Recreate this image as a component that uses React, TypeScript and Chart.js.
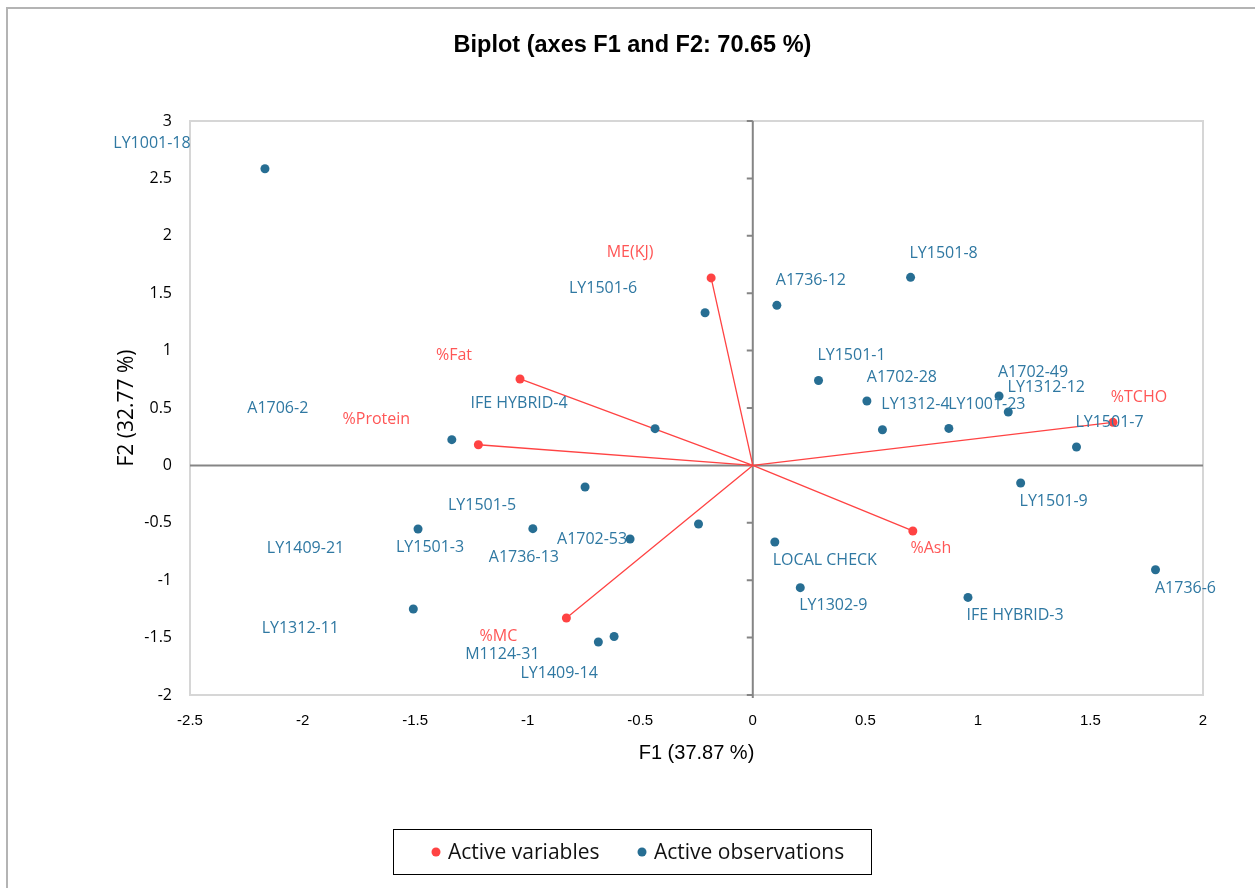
import React, { useEffect, useRef } from "react";
import { Chart, registerables } from "chart.js";

Chart.register(...registerables);

// ---- Data ----
const OBS_NAMES = [
  "LY1001-18", "LY1501-6", "A1736-12", "LY1501-8", "LY1501-1", "A1702-28",
  "LY1312-4", "LY1001-23", "A1702-49", "LY1312-12", "LY1501-7", "LY1501-9",
  "A1736-6", "IFE HYBRID-3", "LY1302-9", "LOCAL CHECK", "A1706-2", "IFE HYBRID-4",
  "LY1501-5", "LY1501-3", "A1736-13", "A1702-53", "LY1409-21", "LY1312-11",
  "M1124-31", "LY1409-14",
];
const OBS_F1 = [
  -2.167, -0.212, 0.107, 0.701, 0.292, 0.507,
  0.576, 0.871, 1.094, 1.135, 1.438, 1.19,
  1.789, 0.956, 0.211, 0.098, -1.337, -0.434,
  -0.745, -1.487, -0.977, -0.545, -0.241, -1.508,
  -0.686, -0.616,
];
const OBS_F2 = [
  2.584, 1.33, 1.394, 1.638, 0.74, 0.561,
  0.311, 0.322, 0.605, 0.465, 0.16, -0.153,
  -0.909, -1.15, -1.065, -0.667, 0.224, 0.32,
  -0.188, -0.554, -0.551, -0.641, -0.51, -1.251,
  -1.538, -1.49,
];

const VAR_NAMES = ["ME(KJ)", "%Fat", "%Protein", "%TCHO", "%Ash", "%MC"];
const VAR_F1 = [-0.185, -1.034, -1.219, 1.6, 0.711, -0.828];
const VAR_F2 = [1.633, 0.753, 0.18, 0.375, -0.571, -1.329];

const X_TICKS = [-2.5, -2, -1.5, -1, -0.5, 0, 0.5, 1, 1.5, 2];
const Y_TICKS = [-2, -1.5, -1, -0.5, 0, 0.5, 1, 1.5, 2, 2.5, 3];

const TITLE = "Biplot (axes F1 and F2: 70.65 %)";
const X_TITLE = "F1 (37.87 %)";
const Y_TITLE = "F2 (32.77 %)";
const LEGEND_VARS = "Active variables";
const LEGEND_OBS = "Active observations";

// ---- Label placement (pixel offsets from each point) ----
const OBS_LABEL_OFFSETS: [number, number][] = [
  [-113, -25], [-102, -24], [34, -25], [33, -24], [33, -25], [35, -24],
  [33, -25], [38, -24], [34, -24], [38, -25], [33, -25], [33, 18],
  [30, 19], [47, 18], [33, 18], [50, 18], [-174, -31], [-136, -25],
  [-103, 18], [12, 18], [-9, 29], [-38, 0], [-393, 24], [-113, 19],
  [-96, 12], [-55, 37],
];
const VAR_LABEL_OFFSETS: [number, number][] = [
  [-81, -25], [-66, -24], [-102, -25], [26, -25], [18, 17], [-68, 18],
];

const RED = "#FF4343";
const RED_TEXT = "#FF5656";
const BLUE = "#276E93";
const BLUE_TEXT = "#2F78A2";
const LABEL_FONT = '16px "Open Sans"';

const biplotPlugin = {
  id: "biplotDecor",
  beforeDraw(chart: any) {
    const { ctx, width, height } = chart;
    ctx.save();
    ctx.fillStyle = "#ffffff";
    ctx.fillRect(0, 0, width, height);
    ctx.strokeStyle = "#B4B4B4";
    ctx.lineWidth = 2;
    ctx.strokeRect(7, 8, width + 40, height + 40);
    ctx.restore();
  },
  beforeDatasetsDraw(chart: any) {
    const { ctx, chartArea: a, scales } = chart;
    const x = scales.x;
    const y = scales.y;
    ctx.save();
    ctx.strokeStyle = "#D6D6D6";
    ctx.lineWidth = 2;
    ctx.strokeRect(a.left, a.top, a.right - a.left, a.bottom - a.top);
    const x0 = x.getPixelForValue(0);
    const y0 = y.getPixelForValue(0);
    ctx.strokeStyle = "#858585";
    ctx.lineWidth = 2;
    ctx.beginPath();
    ctx.moveTo(a.left, y0);
    ctx.lineTo(a.right, y0);
    ctx.moveTo(x0, a.top);
    ctx.lineTo(x0, a.bottom + 3);
    Y_TICKS.forEach((v) => {
      const py = y.getPixelForValue(v);
      ctx.moveTo(x0 - 6, py);
      ctx.lineTo(x0, py);
    });
    ctx.stroke();
    ctx.strokeStyle = RED;
    ctx.lineWidth = 1.3;
    ctx.beginPath();
    VAR_F1.forEach((vx, i) => {
      ctx.moveTo(x0, y0);
      ctx.lineTo(x.getPixelForValue(vx), y.getPixelForValue(VAR_F2[i]));
    });
    ctx.stroke();
    ctx.restore();
  },
  afterDatasetsDraw(chart: any) {
    const { ctx, scales } = chart;
    const x = scales.x;
    const y = scales.y;
    ctx.save();
    ctx.font = LABEL_FONT;
    ctx.textAlign = "center";
    ctx.textBaseline = "middle";
    ctx.fillStyle = BLUE_TEXT;
    OBS_NAMES.forEach((n, i) => {
      const [dx, dy] = OBS_LABEL_OFFSETS[i];
      ctx.fillText(n, x.getPixelForValue(OBS_F1[i]) + dx, y.getPixelForValue(OBS_F2[i]) + dy);
    });
    ctx.fillStyle = RED_TEXT;
    VAR_NAMES.forEach((n, i) => {
      const [dx, dy] = VAR_LABEL_OFFSETS[i];
      ctx.fillText(n, x.getPixelForValue(VAR_F1[i]) + dx, y.getPixelForValue(VAR_F2[i]) + dy);
    });
    ctx.restore();
  },
  afterDraw(chart: any) {
    const { ctx } = chart;
    const ds = chart.data.datasets;
    ctx.save();
    ctx.strokeStyle = "#000000";
    ctx.lineWidth = 1;
    ctx.strokeRect(393.5, 829.5, 478, 45);
    ctx.font = '21px "Open Sans"';
    ctx.textBaseline = "middle";
    ctx.textAlign = "left";
    const items = [
      { cx: 436, color: ds[0].backgroundColor, label: ds[0].label },
      { cx: 642, color: ds[1].backgroundColor, label: ds[1].label },
    ];
    items.forEach((it) => {
      ctx.fillStyle = it.color;
      ctx.beginPath();
      ctx.arc(it.cx, 852, 4.5, 0, Math.PI * 2);
      ctx.fill();
      ctx.fillStyle = "#111111";
      ctx.fillText(it.label, it.cx + 12, 853);
    });
    ctx.restore();
  },
};

export default function App() {
  const ref = useRef<HTMLCanvasElement | null>(null);

  useEffect(() => {
    if (!ref.current) return;
    const chart = new Chart(ref.current, {
      type: "scatter",
      data: {
        datasets: [
          {
            label: LEGEND_VARS,
            data: VAR_F1.map((v, i) => ({ x: v, y: VAR_F2[i] })),
            backgroundColor: RED,
            borderWidth: 0,
            pointRadius: 4.5,
          },
          {
            label: LEGEND_OBS,
            data: OBS_F1.map((v, i) => ({ x: v, y: OBS_F2[i] })),
            backgroundColor: BLUE,
            borderWidth: 0,
            pointRadius: 4.5,
          },
        ],
      },
      options: {
        responsive: false,
        animation: false,
        layout: { padding: { left: 62, right: 52, top: 0, bottom: 0 } },
        plugins: {
          legend: { display: false },
          tooltip: { enabled: false },
          title: {
            display: true,
            text: TITLE,
            color: "#000000",
            font: { family: '"Liberation Sans", Arial, sans-serif', size: 23.5, weight: "bold" },
            padding: { top: 31.5, bottom: 61.3 },
          },
        },
        scales: {
          x: {
            type: "linear",
            min: -2.5,
            max: 2,
            afterBuildTicks: (s: any) => {
              s.ticks = X_TICKS.map((v) => ({ value: v }));
            },
            afterFit: (s: any) => {
              s.height = 888 - 695;
            },
            grid: { display: false, drawTicks: false },
            border: { display: false },
            ticks: {
              padding: 17,
              color: "#000000",
              font: { family: '"Liberation Sans", Arial, sans-serif', size: 15 },
              callback: (v: any) => String(v),
            },
            title: {
              display: true,
              text: X_TITLE,
              color: "#000000",
              font: { family: '"Liberation Sans", Arial, sans-serif', size: 20 },
              padding: { top: 0, bottom: 123 },
            },
          },
          y: {
            type: "linear",
            min: -2,
            max: 3,
            afterBuildTicks: (s: any) => {
              s.ticks = Y_TICKS.map((v) => ({ value: v }));
            },
            afterFit: (s: any) => {
              s.width = 190 - 62;
            },
            grid: { display: false, drawTicks: false },
            border: { display: false },
            ticks: {
              padding: 18,
              color: "#000000",
              font: { family: '"Open Sans", sans-serif', size: 16 },
              callback: (v: any) => String(v),
            },
            title: {
              display: true,
              text: Y_TITLE,
              color: "#000000",
              font: { family: '"Open Sans", sans-serif', size: 21 },
              padding: { top: 52, bottom: 0 },
            },
          },
        },
      },
      plugins: [biplotPlugin],
    });
    return () => chart.destroy();
  }, []);

  return (
    <div style={{ position: "absolute", left: 0, top: 0, width: 1255, height: 888, background: "#fff" }}>
      <canvas ref={ref} width={1255} height={888} />
    </div>
  );
}
